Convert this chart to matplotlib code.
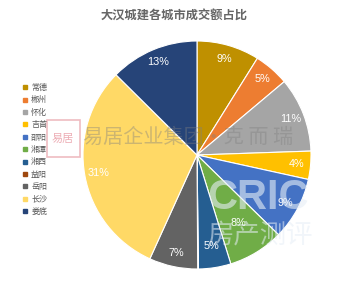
import matplotlib
matplotlib.use("Agg")
import matplotlib.pyplot as plt
from matplotlib.lines import Line2D
from matplotlib.patches import Rectangle

plt.rcParams['font.family'] = ['Noto Sans CJK SC', 'DejaVu Sans']

# --- data (share of transaction value, %)
cities = ["常德", "郴州", "怀化", "吉首", "邵阳", "湘潭", "湘西", "益阳", "岳阳", "长沙", "娄底"]
shares = [8.9, 5.0, 10.6, 4.0, 8.9, 7.9, 4.6, 0.1, 6.9, 30.7, 12.6]
colors = ["#BF9000", "#ED7D31", "#A5A5A5", "#FFC000", "#4472C4", "#70AD47",
          "#255E91", "#9E480E", "#636363", "#FFD966", "#264478"]
title = "大汉城建各城市成交额占比"

W, H = 348, 281
fig = plt.figure(figsize=(W / 100, H / 100), dpi=100)

# pie centre (197,155) px, radius 114 px
cx, cy, r = 197, 155, 114
ax = fig.add_axes([(cx - r) / W, (H - cy - r) / H, 2 * r / W, 2 * r / H])


def pct(p):
    return "" if p < 1 else f"{p:.0f}%"


wedges, texts, autotexts = ax.pie(
    shares, colors=colors, startangle=90, counterclock=False,
    autopct=pct, pctdistance=0.88,
    wedgeprops=dict(edgecolor="white", linewidth=0.8),
    textprops=dict(color="white", fontsize=7.8, family="Liberation Sans"))
ax.set_xlim(-1, 1)
ax.set_ylim(-1, 1)
ax.set_aspect("equal")

# a couple of labels sit further in, like in the original
for i, k in [(5, 0.70), (6, 0.81)]:
    x, y = autotexts[i].get_position()
    autotexts[i].set_position((x / 0.88 * k, y / 0.88 * k))

fig.text(174 / W, 1 - 15 / H, title, ha="center", va="center",
         fontsize=8.8, color="#666666", fontweight="bold")

handles = [Line2D([], [], marker="s", linestyle="none", markersize=3.2,
                  markerfacecolor=c, markeredgecolor=c) for c in colors]
fig.legend(handles, cities, loc="upper left", bbox_to_anchor=(19 / W, 1 - 79 / H),
           frameon=False, fontsize=5.8, labelcolor="#595959",
           handlelength=0.6, handletextpad=0.4, labelspacing=0.42, borderpad=0)

# --- watermarks
fig.text(83 / W, 1 - 137 / H, "易居企业集团·克 而 瑞", ha="left", va="center",
         fontsize=14.5, color="#808080", alpha=0.4)
fig.patches.append(Rectangle((47 / W, 1 - 157 / H), 33 / W, 37 / H,
                             transform=fig.transFigure, fill=False,
                             edgecolor="#E8A0A8", linewidth=1.2, alpha=0.7))
fig.text(63 / W, 1 - 139 / H, "易居", ha="center", va="center",
         fontsize=8, color="#E58A95", alpha=0.7)
fig.text(258 / W, 1 - 198 / H, "CRIC", ha="center", va="center",
         fontsize=30, fontweight="bold", color="#E6EEF6", alpha=0.6,
         family="Liberation Sans")
fig.text(260 / W, 1 - 236 / H, "房产测评", ha="center", va="center",
         fontsize=19, color="#E6EEF6", alpha=0.55)

fig.savefig("out.png", dpi=100)
